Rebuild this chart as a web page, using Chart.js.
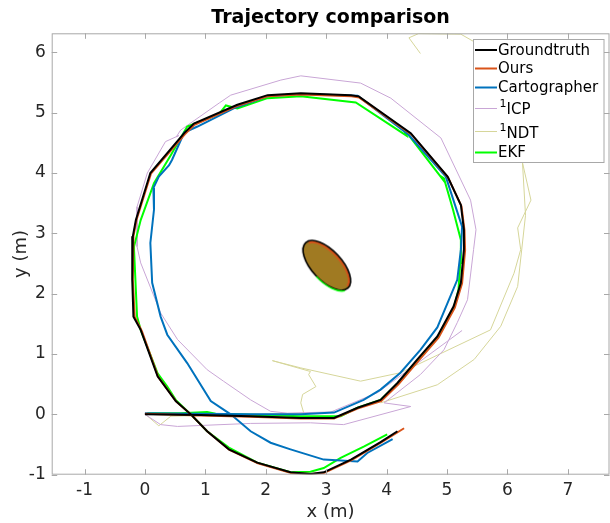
<!DOCTYPE html>
<html>
<head>
<meta charset="utf-8">
<script src="https://cdn.jsdelivr.net/npm/chart.js@4.4.1/dist/chart.umd.min.js"></script>
<style>
  html, body { margin: 0; padding: 0; background: #fff; }
  canvas { display: block; }
</style>
</head>
<body>
<canvas id="traj" width="610" height="523"></canvas>
<script>
/* ===== Trajectory data (metres) ===== */
const X_MIN = -1.543, X_MAX = 7.69;
const Y_MIN = -1.0,   Y_MAX = 6.315;

const gtX = [0.00, 0.92, 1.75, 2.58, 3.13, 3.52, 3.90, 4.18, 4.51, 4.84, 5.11, 5.23, 5.28, 5.28, 5.23, 5.01, 4.40, 3.54, 3.41, 2.58, 2.03, 1.53, 0.81, 0.65, 0.09, -0.15, -0.20, -0.21, -0.19, -0.07, 0.21, 0.51, 0.76, 1.03, 1.39, 1.86, 2.41, 2.74, 2.96, 3.41, 3.90, 4.18];
const gtY = [0.00, -0.01, -0.03, -0.06, -0.06, 0.11, 0.24, 0.52, 0.91, 1.29, 1.79, 2.18, 2.73, 3.06, 3.47, 3.94, 4.66, 5.27, 5.29, 5.32, 5.29, 5.13, 4.82, 4.66, 4.00, 3.22, 2.95, 2.23, 1.62, 1.40, 0.63, 0.22, 0.00, -0.28, -0.58, -0.80, -0.96, -0.99, -0.96, -0.75, -0.46, -0.28];

const oursX = [0.00, 0.92, 1.75, 2.58, 3.13, 3.53, 3.91, 4.20, 4.53, 4.86, 5.13, 5.25, 5.30, 5.29, 5.24, 5.02, 4.41, 3.55, 3.42, 2.58, 2.03, 1.52, 0.82, 0.66, 0.10, -0.14, -0.19, -0.20, -0.17, -0.05, 0.22, 0.52, 0.77, 1.04, 1.40, 1.87, 2.42, 2.75, 2.97, 3.42, 3.92, 4.29];
const oursY = [0.01, -0.02, -0.04, -0.07, -0.07, 0.10, 0.22, 0.50, 0.89, 1.27, 1.77, 2.17, 2.72, 3.05, 3.45, 3.92, 4.64, 5.25, 5.27, 5.30, 5.27, 5.11, 4.80, 4.64, 3.99, 3.22, 2.95, 2.23, 1.62, 1.38, 0.62, 0.21, -0.01, -0.29, -0.59, -0.81, -0.97, -0.99, -0.97, -0.76, -0.46, -0.23];

const cartoX = [0.00, 0.92, 1.75, 2.58, 3.13, 3.62, 3.90, 4.23, 4.56, 4.84, 5.17, 5.23, 5.25, 4.98, 4.37, 3.52, 2.58, 2.03, 1.47, 0.87, 0.65, 0.45, 0.40, 0.23, 0.14, 0.15, 0.09, 0.12, 0.26, 0.37, 0.70, 1.09, 1.42, 1.75, 2.08, 2.41, 2.96, 3.52, 3.68, 4.10];
const cartoY = [0.02, 0.01, 0.00, 0.00, 0.03, 0.24, 0.41, 0.69, 1.07, 1.44, 2.23, 2.73, 3.11, 3.94, 4.63, 5.28, 5.31, 5.27, 5.07, 4.77, 4.67, 4.22, 4.13, 3.94, 3.75, 3.39, 2.84, 2.18, 1.62, 1.32, 0.85, 0.22, 0.00, -0.28, -0.47, -0.58, -0.75, -0.78, -0.64, -0.41];

const icpX = [0.00, 0.26, 0.54, 1.75, 2.74, 3.29, 4.40, 3.96, 4.56, 4.95, 5.17, 5.34, 5.44, 5.48, 5.39, 4.90, 4.07, 3.57, 2.58, 2.25, 1.42, 1.23, 0.59, 0.52, 0.56, 0.34, 0.04, -0.13, -0.13, -0.07, 0.26, 0.54, 1.03, 1.30, 1.75, 2.08, 2.36, 3.08, 3.85, 5.25];
const icpY = [0.00, -0.17, -0.20, -0.15, -0.14, -0.17, 0.13, 0.19, 0.66, 1.07, 1.52, 1.90, 2.73, 3.06, 3.55, 4.58, 5.24, 5.49, 5.61, 5.54, 5.29, 5.16, 4.71, 4.60, 4.62, 4.52, 4.00, 3.44, 2.78, 2.51, 1.68, 1.24, 0.74, 0.55, 0.24, 0.05, 0.02, 0.04, 0.36, 1.39];

const ndtX = [0.01, 0.23, 0.43, 1.75, 2.63, 2.58, 2.61, 2.83, 2.71, 2.74, 2.11, 2.58, 3.57, 4.23, 5.72, 6.11, 6.22, 6.17, 6.39, 6.25, 6.06, 5.49, 5.44, 5.23, 4.53, 4.37, 4.56];
const ndtY = [0.00, -0.19, -0.03, 0.00, 0.02, 0.19, 0.33, 0.46, 0.66, 0.71, 0.89, 0.77, 0.55, 0.69, 1.40, 2.34, 2.73, 3.09, 3.55, 4.17, 5.21, 6.10, 6.18, 6.30, 6.31, 6.24, 5.98];
const ndtBackX = [6.25, 6.30, 6.17, 5.89, 5.45, 4.84, 3.90];
const ndtBackY = [4.16, 3.30, 2.12, 1.46, 0.91, 0.49, 0.19];

const ekfX = [0.04, 0.59, 1.03, 1.17, 1.92, 2.58, 3.24, 3.52, 3.90, 4.18, 4.51, 4.84, 5.11, 5.19, 5.22, 5.23, 5.10, 4.95, 4.92, 4.94, 4.34, 4.31, 4.33, 3.49, 2.58, 2.03, 1.53, 1.34, 1.23, 0.70, 0.43, 0.15, -0.07, -0.18, -0.18, -0.13, -0.07, 0.21, 0.37, 0.51, 0.76, 1.03, 1.39, 1.86, 2.41, 2.74, 2.96, 3.24, 3.63, 4.01];
const ekfY = [0.02, 0.02, 0.04, 0.01, -0.01, -0.03, -0.03, 0.11, 0.24, 0.51, 0.89, 1.27, 1.76, 2.06, 2.51, 2.89, 3.39, 3.91, 3.93, 3.88, 4.66, 4.67, 4.62, 5.17, 5.27, 5.24, 5.07, 5.12, 4.98, 4.77, 4.30, 3.83, 3.22, 2.78, 2.73, 1.62, 1.40, 0.68, 0.46, 0.24, 0.00, -0.28, -0.55, -0.80, -0.96, -0.95, -0.89, -0.72, -0.53, -0.33];

// landmark ellipse centre
const markX = [3.01];
const markY = [2.47];

const legendLabels = ['Groundtruth', 'Ours', 'Cartographer', '¹ICP', '¹NDT', 'EKF'];
const legendColors = ['#000000', '#D95319', '#0072BD', '#c9a6d6', '#d6d69a', '#00ff00'];

const zip = (xs, ys) => xs.map((x, i) => ({ x, y: ys[i] }));

/* ===== Ellipse marker drawn once into an offscreen canvas ===== */
function makeEllipse() {
  const c = document.createElement('canvas');
  c.width = 76; c.height = 76;
  const g = c.getContext('2d');
  const rot = 47 * Math.PI / 180;
  const A = 31, B = 15, m = 38;
  g.fillStyle = '#a07a22';
  g.beginPath(); g.ellipse(m, m, A, B, rot, 0, Math.PI * 2); g.fill();
  // orange edge sits just inside the upper-right rim
  g.strokeStyle = '#D95319';
  g.lineWidth = 2;
  g.beginPath(); g.ellipse(m, m, A - 1.8, B - 1.8, rot, Math.PI * 1.05, Math.PI * 1.98); g.stroke();
  g.strokeStyle = '#000';
  g.lineWidth = 1.6;
  g.beginPath(); g.ellipse(m, m, A, B, rot, 0, Math.PI * 2); g.stroke();
  // green rim along the lower side
  g.strokeStyle = '#00ff00';
  g.lineWidth = 1.4;
  g.beginPath(); g.ellipse(m + 0.4, m + 0.9, A, B, rot, Math.PI * 0.08, Math.PI * 0.5); g.stroke();
  return c;
}

/* ===== Axes box, inward ticks, titles, legend ===== */
const decor = {
  id: 'decor',
  afterDraw(chart) {
    const { ctx, chartArea: a, scales: { x, y } } = chart;
    const TL = 5.5;
    ctx.save();
    ctx.strokeStyle = '#a8a8a8';
    ctx.lineWidth = 1;
    ctx.strokeRect(a.left + 0.5, a.top + 0.5, a.right - a.left - 1, a.bottom - a.top - 1);
    ctx.beginPath();
    x.ticks.forEach(t => {
      const p = Math.round(x.getPixelForValue(t.value)) + 0.5;
      ctx.moveTo(p, a.bottom); ctx.lineTo(p, a.bottom - TL);
      ctx.moveTo(p, a.top);    ctx.lineTo(p, a.top + TL);
    });
    y.ticks.forEach(t => {
      const p = Math.round(y.getPixelForValue(t.value)) + 0.5;
      ctx.moveTo(a.left, p);  ctx.lineTo(a.left + TL, p);
      ctx.moveTo(a.right, p); ctx.lineTo(a.right - TL, p);
    });
    ctx.stroke();

    const cx = (a.left + a.right) / 2;
    ctx.fillStyle = '#000';
    ctx.textAlign = 'center';
    ctx.textBaseline = 'middle';
    ctx.font = 'bold 19px "DejaVu Sans"';
    ctx.fillText('Trajectory comparison', cx, 18);
    ctx.fillStyle = '#262626';
    ctx.font = '18px "DejaVu Sans"';
    ctx.fillText('x (m)', cx, 512);
    ctx.save();
    ctx.translate(21, (a.top + a.bottom) / 2);
    ctx.rotate(-Math.PI / 2);
    ctx.fillText('y (m)', 0, 0);
    ctx.restore();

    // legend box
    const bx = 473.5, by = 39.5, bw = 130.5, bh = 123;
    ctx.fillStyle = '#fff';
    ctx.fillRect(bx, by, bw, bh);
    ctx.strokeStyle = '#a8a8a8';
    ctx.strokeRect(bx, by, bw, bh);
    const lineY = [50, 68.5, 87.5, 108.5, 131.5, 152.5];
    const textY = [51, 69.5, 88, 110.5, 134, 153.5];
    ctx.textAlign = 'left';
    legendLabels.forEach((lab, i) => {
      ctx.strokeStyle = legendColors[i];
      ctx.lineWidth = (i === 3 || i === 4) ? 1 : 2;
      ctx.beginPath();
      ctx.moveTo(475, lineY[i]); ctx.lineTo(497, lineY[i]);
      ctx.stroke();
      ctx.fillStyle = '#000';
      if (lab.startsWith('¹')) {
        ctx.font = '11px "DejaVu Sans"';
        ctx.fillText('1', 499.5, textY[i] - 6);
        ctx.font = '15px "DejaVu Sans"';
        ctx.fillText(lab.slice(1), 506.5, textY[i]);
      } else {
        ctx.font = '15px "DejaVu Sans"';
        ctx.fillText(lab, 498, textY[i]);
      }
    });
    ctx.restore();
  }
};

const lineSet = (label, data, color, width, order) => ({
  label, data, borderColor: color, borderWidth: width,
  showLine: true, pointRadius: 0, fill: false, tension: 0, order
});

const ctx = document.getElementById('traj').getContext('2d');
new Chart(ctx, {
  type: 'scatter',
  data: {
    datasets: [
      {
        label: 'landmark', data: zip(markX, markY),
        pointStyle: makeEllipse(), pointRadius: 30, order: 0
      },
      lineSet('Groundtruth', zip(gtX, gtY), legendColors[0], 2, 1),
      lineSet('Ours', zip(oursX, oursY), legendColors[1], 2, 2),
      lineSet('Cartographer', zip(cartoX, cartoY), legendColors[2], 2, 3),
      lineSet('EKF', zip(ekfX, ekfY), legendColors[5], 2, 4),
      lineSet('¹ICP', zip(icpX, icpY), legendColors[3], 1, 5),
      lineSet('¹NDT', zip(ndtX, ndtY), legendColors[4], 1, 6),
      lineSet('¹NDT return', zip(ndtBackX, ndtBackY), legendColors[4], 1, 7)
    ]
  },
  options: {
    responsive: false,
    animation: false,
    devicePixelRatio: 1,
    layout: { autoPadding: false, padding: { top: 33.3, right: 0.5, left: 0, bottom: 0 } },
    plugins: {
      legend: { display: false },
      tooltip: { enabled: false },
      title: { display: false }
    },
    scales: {
      x: {
        type: 'linear', min: X_MIN, max: X_MAX,
        afterFit: s => { s.height = 48.3; },
        grid: { display: false, drawTicks: false },
        border: { display: false },
        ticks: {
          stepSize: 1, includeBounds: false, autoSkip: false, maxRotation: 0,
          padding: 6, color: '#262626', font: { family: 'DejaVu Sans', size: 17 }
        }
      },
      y: {
        type: 'linear', min: Y_MIN, max: Y_MAX,
        afterFit: s => { s.width = 51.7; },
        grid: { display: false, drawTicks: false },
        border: { display: false },
        ticks: {
          stepSize: 1, includeBounds: false, autoSkip: false,
          padding: 6, color: '#262626', font: { family: 'DejaVu Sans', size: 17 }
        }
      }
    }
  },
  plugins: [decor]
});
</script>
</body>
</html>
